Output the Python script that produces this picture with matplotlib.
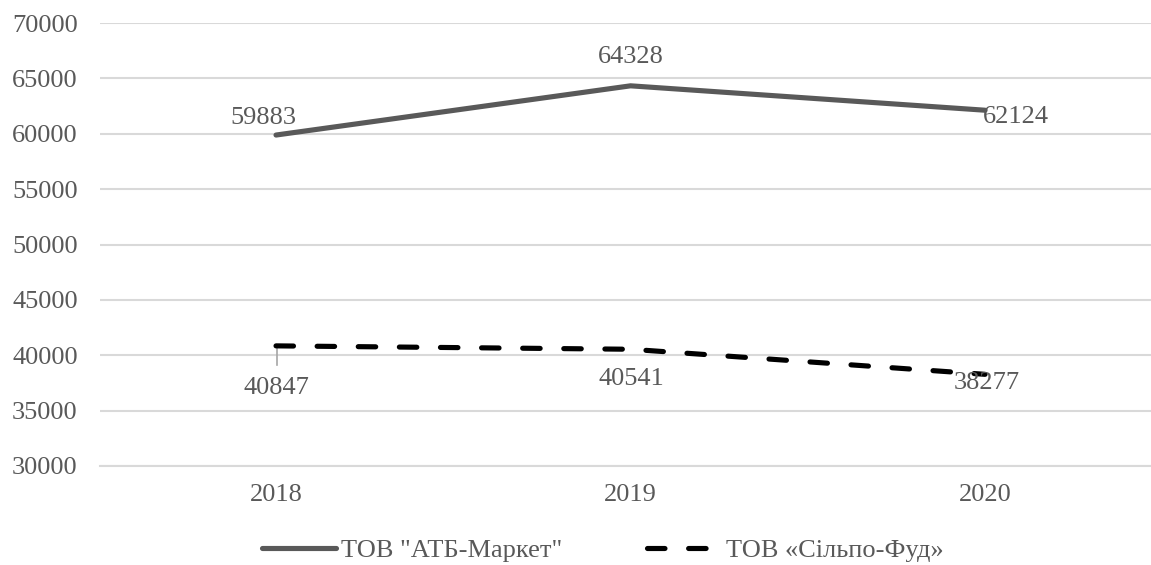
import matplotlib
matplotlib.use("Agg")
import matplotlib.pyplot as plt
from matplotlib.ticker import FixedLocator

plt.rcParams['font.family'] = ['Liberation Serif', 'DejaVu Serif']

years = ['2018', '2019', '2020']
atb = [59883, 64328, 62124]
silpo = [40847, 40541, 38277]
yticks = [30000, 35000, 40000, 45000, 50000, 55000, 60000, 65000, 70000]
label_atb = 'ТОВ "АТБ-Маркет"'
label_silpo = 'ТОВ «Сільпо-Фуд»'

TXT = '#595959'
GRID = '#d9d9d9'
FS = 19

fig = plt.figure(figsize=(11.51, 5.65), dpi=100)
ax = fig.add_axes([100/1151, 1-466/565, 1-100/1151, (466-23)/565])

x = list(range(len(years)))
ax.plot(x, atb, color='#595959', lw=3.7, solid_capstyle='round', label=label_atb, zorder=3)
ax.plot(x, silpo, color='black', lw=3.7, dashes=(3.4, 4.6), dash_capstyle='round',
        label=label_silpo, zorder=3)

ax.set_xlim(-0.4965, 2.468)
ax.set_ylim(30000, 70000)
ax.yaxis.set_major_locator(FixedLocator(yticks))
ax.set_xticks(x)
ax.set_xticklabels(years)
ax.grid(axis='y', color=GRID, lw=1.5)
ax.set_axisbelow(True)
for s in ['top', 'right', 'left']:
    ax.spines[s].set_visible(False)
ax.spines['bottom'].set_color(GRID)
ax.spines['bottom'].set_linewidth(1.5)
ax.tick_params(axis='both', length=0, labelsize=FS, colors=TXT)
ax.tick_params(axis='y', pad=16)
ax.tick_params(axis='x', pad=13)

def lab(xi, yi, dx, dy, ha='center', va='center'):
    ax.annotate(f'{yi}', (xi, yi), xytext=(dx, dy), textcoords='offset pixels',
                ha=ha, va=va, fontsize=FS, color=TXT)

# ATB labels
lab(0, atb[0], -13, 17)
lab(1, atb[1], 0, 29)
lab(2, atb[2], -2, -7, ha='left')
# Silpo labels
lab(0, silpo[0], 0, -42)
ax.plot([0.003, 0.003], [silpo[0], silpo[0] - 1750], color='#a6a6a6', lw=1.2, zorder=2)
lab(1, silpo[1], 1, -30)
lab(2, silpo[2], 2, -9)

fig.legend(loc='lower center', bbox_to_anchor=(0.524, -0.037), ncol=2, frameon=False,
           fontsize=FS, handlelength=2.8, handletextpad=0.2, columnspacing=3.2,
           labelcolor=TXT)

fig.savefig('out.png', dpi=100)
